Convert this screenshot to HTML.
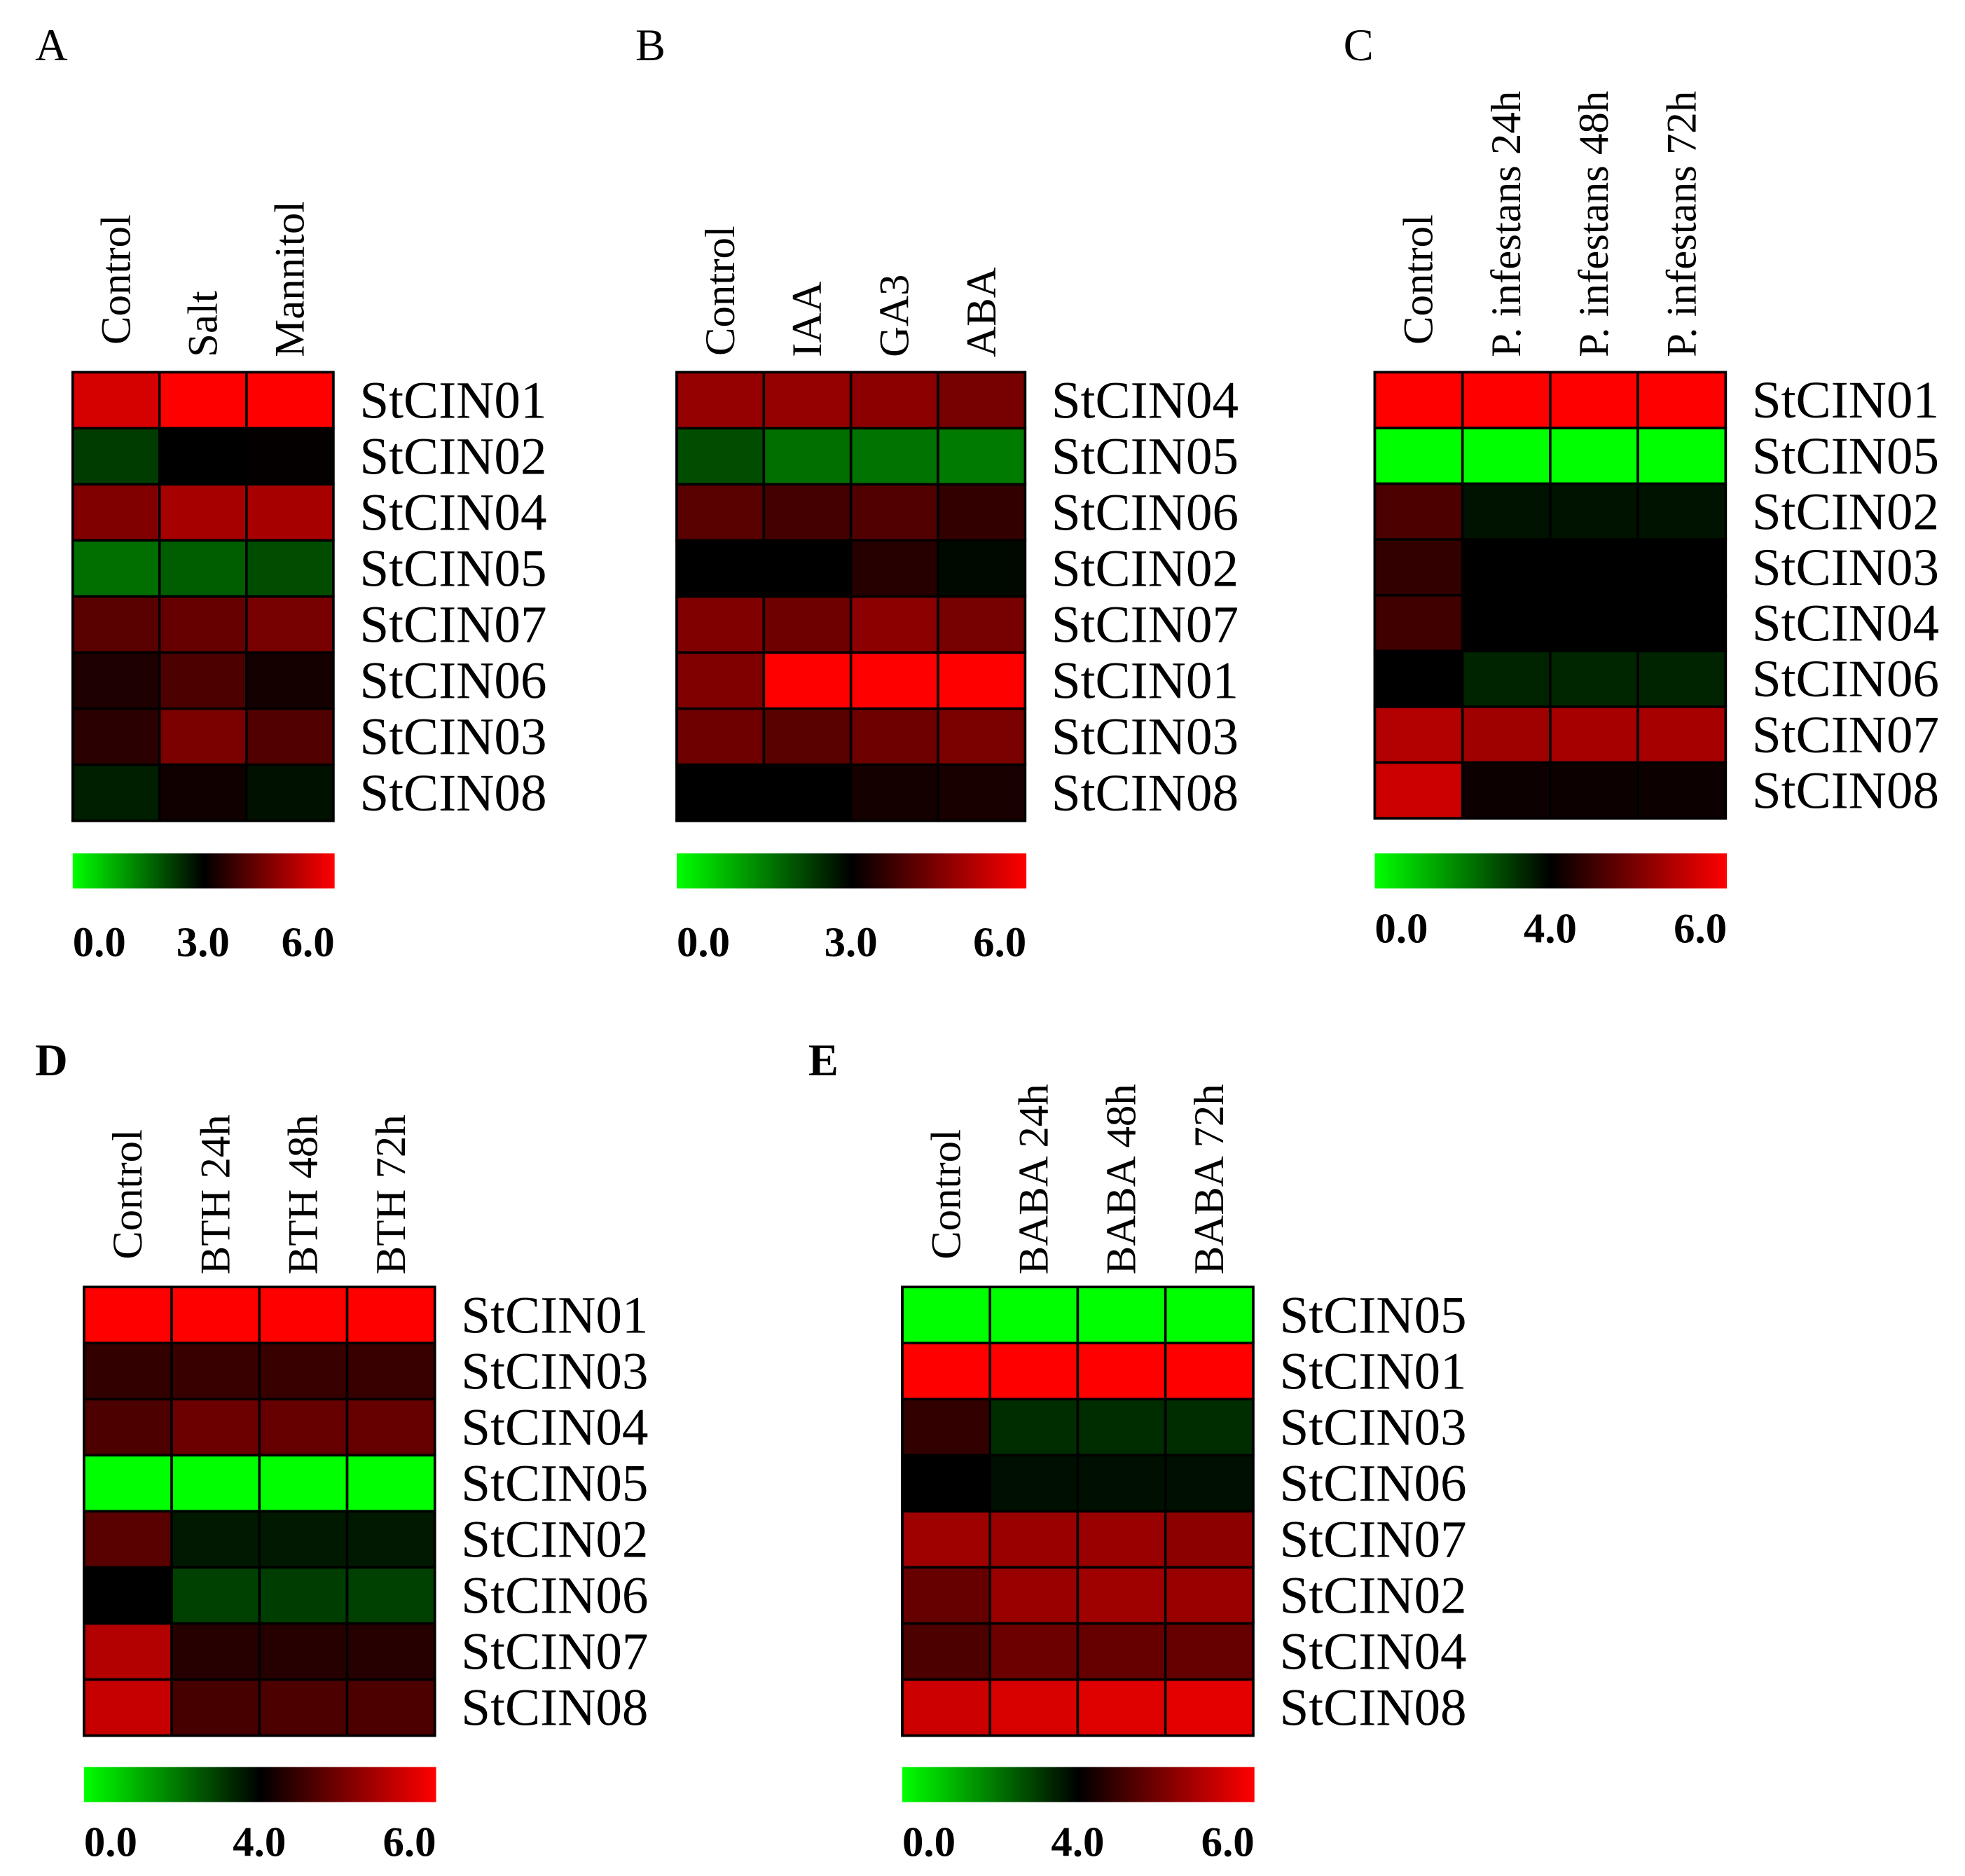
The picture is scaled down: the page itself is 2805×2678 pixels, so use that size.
<!DOCTYPE html>
<html><head><meta charset="utf-8"><style>
html,body{margin:0;padding:0;background:#fff;}
svg{display:block;}
text{font-family:"Liberation Serif",serif;fill:#000;}
</style></head><body>
<svg id="fig" width="2805" height="2678" viewBox="0 0 1568 1497" preserveAspectRatio="none" xmlns="http://www.w3.org/2000/svg"></svg>
<script>
// Panel A data (scale 0-6, mid 3)
const aCols = ["Control","Salt","Mannitol"];
const aGenes = ["StCIN01","StCIN02","StCIN04","StCIN05","StCIN07","StCIN06","StCIN03","StCIN08"];
const aValues = [[5.5,6,6],[2.3,3.0,3.05],[4.5,4.95,4.95],[1.7,1.9,2.1],[4.05,4.2,4.4],[3.35,3.9,3.25],[3.5,4.45,3.95],[2.65,3.2,2.8]];
const aTicks = ["0.0","3.0","6.0"];
// Panel B data
const bCols = ["Control","IAA","GA3","ABA"];
const bGenes = ["StCIN04","StCIN05","StCIN06","StCIN02","StCIN07","StCIN01","StCIN03","StCIN08"];
const bValues = [[4.75,4.75,4.65,4.4],[2.1,1.7,1.65,1.55],[4.05,3.8,3.95,3.6],[3,3,3.45,2.9],[4.5,4.3,4.65,4.4],[4.5,6,6,6],[4.3,4.05,4.3,4.45],[3,3,3.25,3.3]];
const bTicks = ["0.0","3.0","6.0"];
// Panel C data (mid 4)
const cCols = ["Control","P. infestans 24h","P. infestans 48h","P. infestans 72h"];
const cGenes = ["StCIN01","StCIN05","StCIN02","StCIN03","StCIN04","StCIN06","StCIN07","StCIN08"];
const cValues = [[6,6,6,6],[0,0,0,0],[4.6,3.7,3.7,3.7],[4.4,4,4,4],[4.5,4,4,4],[4,3.45,3.4,3.45],[5.4,5.25,5.3,5.3],[5.6,4.1,4.1,4.1]];
const cTicks = ["0.0","4.0","6.0"];
// Panel D data
const dCols = ["Control","BTH 24h","BTH 48h","BTH 72h"];
const dGenes = ["StCIN01","StCIN03","StCIN04","StCIN05","StCIN02","StCIN06","StCIN07","StCIN08"];
const dValues = [[6,6,6,6],[4.4,4.45,4.45,4.45],[4.6,4.85,4.8,4.8],[0,0,0,0],[4.7,3.6,3.6,3.6],[4,3,3.05,3],[5.4,4.3,4.3,4.3],[5.55,4.55,4.6,4.6]];
const dTicks = ["0.0","4.0","6.0"];
// Panel E data
const eCols = ["Control","BABA 24h","BABA 48h","BABA 72h"];
const eGenes = ["StCIN05","StCIN01","StCIN03","StCIN06","StCIN07","StCIN02","StCIN04","StCIN08"];
const eValues = [[0,0,0,0],[6,6,6,6],[4.4,3.3,3.3,3.3],[4,3.75,3.75,3.75],[5.25,5.2,5.2,5.1],[4.8,5.2,5.25,5.2],[4.6,4.85,4.8,4.8],[5.6,5.7,5.75,5.8]];
const eTicks = ["0.0","4.0","6.0"];

const NS="http://www.w3.org/2000/svg";
const svg=document.getElementById('fig');
function mk(tag,attrs,parent){const e=document.createElementNS(NS,tag);for(const k in attrs)e.setAttribute(k,attrs[k]);(parent||svg).appendChild(e);return e;}
function colorOf(v,mid,max){
  if(v<=mid){const g=Math.round(Math.max(0,Math.min(1,(mid-v)/mid))*255);return `rgb(0,${g},0)`;}
  const r=Math.round(Math.max(0,Math.min(1,(v-mid)/(max-mid)))*255);return `rgb(${r},0,0)`;
}
const defs=mk('defs',{});
const grad=mk('linearGradient',{id:'cbar',x1:0,x2:1,y1:0,y2:0},defs);
mk('stop',{offset:'0',"stop-color":'#00ff00'},grad);
mk('stop',{offset:'0.5',"stop-color":'#000'},grad);
mk('stop',{offset:'1',"stop-color":'#ff0000'},grad);

function panel(id,letter,bold,lx,ly,cols,genes,values,ticks,mid,x0,x1,y0,y1,cbY,tickY,ctrlEnd,labEnd){
  const g=mk('g',{});
  
  
  const L=mk('text',{x:lx,y:ly,"font-size":36,"font-weight":bold?'bold':'normal'},g);
  L.textContent=letter;
  
  
  const cw=(x1-x0)/cols.length, rh=(y1-y0)/genes.length;
  const yScale=i=>y0+i*rh, xScale=j=>x0+j*cw;
  values.forEach((row,i)=>row.forEach((v,j)=>{
    const r=mk('rect',{x:xScale(j),y:yScale(i),width:cw,height:rh,fill:colorOf(v,mid,6),stroke:'#000',"stroke-width":2},g);
    
    
  }));
  mk('rect',{x:x0,y:y0,width:x1-x0,height:y1-y0,fill:'none',stroke:'#000',"stroke-width":2},g);
  genes.forEach((gn,i)=>{
    const t=mk('text',{x:x1+21,y:yScale(i)+rh/2+14,"font-size":42},g);
    t.textContent=gn;
    
    
  });
  cols.forEach((c,j)=>{
    const cx=xScale(j)+cw/2+11, ey=(c==='Control')?ctrlEnd:labEnd;
    const t=mk('text',{x:0,y:0,"font-size":34,"text-anchor":'start',transform:`translate(${cx},${ey}) rotate(-90)`},g);
    t.textContent=c;
    
    
  });
  const cb=mk('rect',{x:x0,y:cbY,width:x1-x0+1,height:28,fill:'url(#cbar)'},g);
  
  
  const anchors=['start','middle','end'], xs=[x0,(x0+x1)/2,x1+1];
  ticks.forEach((tk,k)=>{
    const t=mk('text',{x:xs[k],y:tickY,"font-size":34,"font-weight":'bold',"text-anchor":anchors[k]},g);
    t.textContent=tk;
    
    
  });
}
panel('a','A',false,28,48,aCols,aGenes,aValues,aTicks,3,58,266,297,655,681,763,275,285);
panel('b','B',false,507,48,bCols,bGenes,bValues,bTicks,3,540,818,297,655,681,763,284,285);
panel('c','C',false,1072,48,cCols,cGenes,cValues,cTicks,4,1097,1377,297,653,681,752,275,285);
panel('d','D',true,28,858,dCols,dGenes,dValues,dTicks,4,67,347,1027,1385,1410,1481,1005,1017);
panel('e','E',true,645,858,eCols,eGenes,eValues,eTicks,4,720,1000,1027,1385,1410,1481,1005,1017);
</script>
</body></html>
